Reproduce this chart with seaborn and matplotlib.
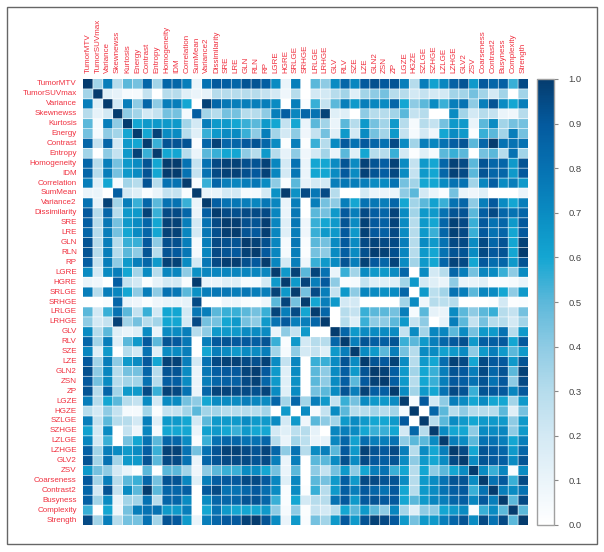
import matplotlib
matplotlib.use("Agg")
import matplotlib.pyplot as plt
import numpy as np
import pandas as pd
import seaborn as sns
from matplotlib.colors import LinearSegmentedColormap
from matplotlib.patches import Rectangle

labels = ["TumorMTV", "TumorSUVmax", "Variance", "Skewnewss", "Kurtosis", "Energy", "Contrast", "Entropy",
          "Homogeneity", "IDM", "Correlation", "SumMean", "Variance2", "Dissimilarity", "SRE", "LRE", "GLN",
          "RLN", "RP", "LGRE", "HGRE", "SRLGE", "SRHGE", "LRLGE", "LRHGE", "GLV", "RLV", "SZE", "LZE", "GLN2",
          "ZSN", "ZP", "LGZE", "HGZE", "SZLGE", "SZHGE", "LZLGE", "LZHGE", "GLV2", "ZSV", "Coarseness",
          "Contrast2", "Busyness", "Complexity", "Strength"]

# Upper triangle of the correlation matrix, each row starts at the diagonal.
r00 = [1, .35, .75, .3, .5, .45, .85, .35, .85, .85, .75, .1, .8, .9, .88, .85, .92, .92, .88, .7, .1,
       .75, 0, .5, .4, .7, .85, .72, .9, .93, .9, .92, .75, .3, .75, .62, .72, .87, .92, .65, .9, .85, .87, .55, .95]
r01 = [1, .15, .12, .05, .05, .25, 0, .3, .3, .15, .1, .12, .3, .3, .3, .3, .3, .25, .2, .08,
       .3, 0, .2, .2, .3, .35, .15, .35, .4, .45, .3, .3, .2, .25, .2, .2, .35, .35, .45, .35, .2, .35, 0, .35]
r02 = [1, .2, .75, .4, .85, .4, .75, .75, .6, 0, .98, .85, .78, .75, .75, .75, .75, .7, 0,
       .75, .03, .55, .25, .5, .75, .65, .75, .72, .7, .85, .6, .4, .5, .7, .55, .75, .8, .4, .75, .92, .7, .6, .75]
r03 = [1, .4, .35, .2, .25, .45, .45, .05, .88, .35, .3, .45, .45, .3, .3, .4, .75, .88,
       .72, .85, .8, .98, .15, .15, 0, .4, .3, .3, .35, .5, .25, .3, 0, 0, .7, .35, .2, .3, .25, .1, .08, .3]
r04 = [1, .6, .65, .65, .65, .65, .35, .2, .75, .65, .65, .6, .55, .5, .65, .6, .25,
       .6, .1, .5, .35, .1, .5, .3, .65, .45, .35, .65, .3, .05, .3, .25, .45, .65, .65, .1, .5, .7, .35, .45, .45]
r05 = [1, .6, .98, .7, .7, .3, .15, .55, .65, .7, .7, .55, .4, .75, .35, .2,
       .4, .08, .25, .45, .15, .65, .2, .7, .45, .35, .65, .25, .05, .2, .08, .6, .7, .65, .02, .55, .5, .35, .75, .45]
r06 = [1, .55, .92, .92, .92, .03, .85, .98, .85, .85, .9, .92, .85, .7, .02,
       .75, .02, .55, .3, .7, .9, .8, .9, .85, .8, .95, .7, .35, .75, .72, .8, .88, .92, .5, .85, 1, .8, .8, .8]
r07 = [1, .6, .6, .3, .1, .5, .55, .6, .6, .4, .3, .65, .3, .12,
       .4, .08, .2, .35, .1, .5, .15, .6, .3, .3, .55, .2, .02, .15, .05, .5, .55, .5, 0, .45, .5, .3, .8, .35]
r08 = [1, 1, .8, .25, .8, .95, .98, .98, .93, .92, .98, .72, .2,
       .8, .1, .6, .6, .7, .92, .7, .98, .92, .88, .98, .7, .25, .65, .6, .85, .98, .95, .5, .92, .85, .85, .65, .92]
r09 = [1, .8, .25, .8, .95, .98, .98, .93, .9, .98, .72, .2,
       .78, .1, .6, .6, .7, .9, .7, .98, .92, .88, .96, .7, .25, .65, .6, .85, .98, .95, .5, .92, .85, .85, .65, .9]
r10 = [1, .03, .55, .85, .75, .72, .75, .78, .7, .4, .03,
       .5, .12, .2, .2, .75, .78, .75, .75, .7, .7, .8, .45, .35, .6, .6, .7, .8, .8, .35, .72, .88, .7, .75, .65]
r11 = [1, .1, .1, .2, .2, .05, .05, .2, .68, 1,
       .68, .95, .78, .95, .3, 0, 0, .2, .1, .1, .1, .4, .5, .2, .1, .03, .45, .1, .08, .15, 0, 0, 0, .1]
r12 = [1, .88, .8, .78, .75, .72, .78, .72, .1,
       .75, 0, .75, .45, .4, .75, .6, .8, .78, .75, .85, .6, .35, .5, .62, .55, .8, .85, .4, .75, .9, .7, .6, .75]
r13 = [1, .95, .93, .95, .95, .95, .72, .1,
       .78, 0, .5, .45, .65, .9, .75, .95, .88, .85, .97, .7, .35, .65, .65, .8, .92, .92, .5, .88, .95, .85, .8, .85]
r14 = [1, .99, .93, .92, .99, .72, .15,
       .78, .08, .55, .6, .65, .92, .7, .98, .9, .87, .97, .7, .3, .65, .6, .85, .98, .95, .55, .9, .8, .85, .65, .9]
r15 = [1, .92, .9, .99, .72, .15,
       .75, .08, .55, .65, .65, .9, .65, .98, .9, .87, .95, .7, .3, .65, .55, .85, .98, .95, .55, .9, .8, .85, .6, .9]
r16 = [1, .98, .93, .72, .05,
       .78, .03, .5, .45, .7, .9, .7, .95, .97, .95, .95, .75, .3, .7, .65, .8, .95, .95, .7, .95, .85, .92, .6, .98]
r17 = [1, .9, .72, .05,
       .75, .02, .45, .4, .7, .88, .7, .93, .99, .98, .93, .72, .3, .65, .6, .8, .92, .92, .7, .95, .9, .92, .6, 1]
r18 = [1, .72, .2,
       .75, .08, .55, .65, .7, .92, .75, .98, .9, .85, .97, .7, .35, .65, .6, .85, .97, .95, .6, .9, .82, .85, .65, .92]
r19 = [1, .65,
       .98, .5, .97, .8, .1, .55, .35, .7, .65, .65, .7, .85, 0, .7, .2, .3, .85, .75, .45, .72, .7, .55, .4, .7]
r20 = [1,
       .65, .97, .75, .9, .4, .03, .05, .25, .15, .15, .15, .35, .65, .2, .15, .1, .4, .1, .1, .15, .03, .03, .05, .1]
r21 = [1, .45, .95, .75, .25, .65, .4, .72, .7, .68, .7, .85, 0, .65, .28, .35, .8, .75, .5, .72, .7, .6, .4, .65]
r22 = [1, .6, .75, .65, .2, .2, 0, 0, 0, 0, .35, .7, .08, .3, .28, .3, 0, 0, 0, .02, .2, .02, .03]
r23 = [1, .85, 0, .3, .25, .55, .5, .5, .45, .75, .05, .5, .12, .1, .7, .5, .4, .5, .55, .3, .25, .45]
r24 = [1, 0, .3, .15, .55, .4, .4, .5, .65, .25, .4, 0, .12, .75, .5, .25, .45, .3, .3, .2, .35]
r25 = [1, .85, .65, .7, .7, .7, .7, .25, .7, .35, .72, .72, .5, .7, .45, .65, .65, .8, .3, .65]
r26 = [1, .75, .92, .88, .88, .92, .55, .5, .65, .75, .85, .9, .93, .65, .88, .88, .9, .6, .9]
r27 = [1, .7, .65, .5, .75, .45, .3, .7, .7, .62, .65, .7, .4, .65, .75, .65, .5, .65]
r28 = [1, .92, .9, .98, .7, .3, .65, .6, .82, .98, .95, .6, .95, .9, .9, .65, .92]
r29 = [1, .98, .88, .65, .35, .6, .55, .75, .92, .9, .75, .95, .85, .92, .5, .98]
r30 = [1, .88, .65, .3, .6, .55, .75, .9, .88, .8, .92, .8, .9, .4, .95]
r31 = [1, .7, .35, .65, .6, .8, .95, .92, .55, .92, .9, .9, .72, .9]
r32 = [1, .05, .9, .2, .4, .75, .7, .6, .7, .6, .6, .35, .65]
r33 = [1, 0, .85, .5, .3, .4, .3, .3, .3, .5, .15, .45]
r34 = [1, .3, .5, .7, .65, .6, .65, .65, .65, .4, .65]
r35 = [1, .7, .6, .6, .4, .7, .7, .72, .4, .65]
r36 = [1, .75, .7, .5, .8, .8, .75, .6, .75]
r37 = [1, .95, .6, .92, .88, .85, .65, .85]
r38 = [1, .7, .92, .9, .88, .7, .92]
r39 = [1, .7, .55, .72, .03, .7]
r40 = [1, .8, .9, .55, .95]
r41 = [1, .75, .7, .8]
r42 = [1, .5, .95]
r43 = [1, .5]
r44 = [1]

rows = [r00, r01, r02, r03, r04, r05, r06, r07, r08, r09, r10, r11, r12, r13, r14, r15, r16, r17, r18, r19, r20, r21,
        r22, r23, r24, r25, r26, r27, r28, r29, r30, r31, r32, r33, r34, r35, r36, r37, r38, r39, r40, r41, r42, r43, r44]

n = len(labels)
corr = np.zeros((n, n))
for i, row in enumerate(rows):
    corr[i, i:] = row
    corr[i:, i] = row
df = pd.DataFrame(corr, index=labels, columns=labels)

# Colours, one for every 0.1.
cmap = LinearSegmentedColormap.from_list("bar", ["#ffffff", "#eaf4fa", "#d3e9f4", "#b5dcec", "#8ecbe4", "#5cb8da",
                                                 "#14a6d2", "#0a8cc2", "#0672b2", "#045a9e", "#053c6e"])

plt.rcParams["font.family"] = ["Liberation Sans", "DejaVu Sans"]
W, H = 604, 552
fig = plt.figure(figsize=(W / 100, H / 100), dpi=100)
ax = fig.add_axes([83 / W, 1 - 525 / H, 445 / W, 446 / H])
cax = fig.add_axes([537 / W, 1 - 525 / H, 17 / W, 446 / H])

sns.heatmap(df, ax=ax, cbar_ax=cax, cmap=cmap, vmin=0, vmax=1, linewidths=0,
            xticklabels=True, yticklabels=True, cbar_kws={"ticks": np.arange(0, 1.01, 0.1)})

# Thin soft cell borders, the mesh edges snap to whole pixels and come out too heavy.
grid = np.arange(1, n)
vl = ax.vlines(grid, 0, n, color="white", linewidth=0.6, alpha=0.75)
hl = ax.hlines(grid, 0, n, color="white", linewidth=0.6, alpha=0.75)
vl.set_snap(False)
hl.set_snap(False)

red = "#f0303f"
ax.xaxis.tick_top()
ax.tick_params(axis="both", length=0, labelsize=5.8, labelcolor=red, pad=4.5)
plt.setp(ax.get_xticklabels(), rotation=90, ha="center", va="bottom")
plt.setp(ax.get_yticklabels(), rotation=0)

# Colour bar in grey with ticks on the right.
cbar = ax.collections[0].colorbar
cbar.outline.set_edgecolor("#a0a0a0")
cbar.outline.set_linewidth(1.0)
cax.tick_params(length=3, width=0.8, color="#888888", labelsize=6.8, labelcolor="#444444", pad=7.5)
cax.set_yticklabels([f"{t:.1f}" for t in np.arange(0, 1.01, 0.1)])

fig.add_artist(Rectangle((7 / W, 1 - 544 / H), 590 / W, 537 / H, transform=fig.transFigure, fill=False,
                         edgecolor="#666666", linewidth=1.0))

fig.savefig("out.png", dpi=100)
